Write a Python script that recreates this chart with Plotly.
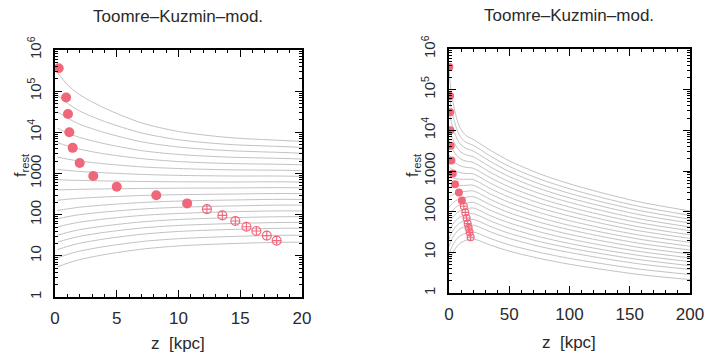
import plotly.graph_objects as go

# ---------------- data ----------------
title_text = "Toomre\u2013Kuzmin\u2013mod."

# z positions (kpc) where the grey model curves were read
z_curve = [0.2, 1, 2, 4, 7, 10, 14, 20, 35, 50, 75, 100, 130, 160, 200]

# f_rest values of the grey curves (top curve first)
f_curves = [
    [2.8e5, 1.44e5, 8.2e4, 3.9e4, 1.7e4, 1.05e4, 7.5e3, 6.0e3, 3150, 1780, 857, 485, 275, 169, 104],
    [7.9e4, 5.1e4, 3.3e4, 1.84e4, 9.7e3, 6.6e3, 5.1e3, 4.3e3, 2260, 1300, 637, 366, 210, 131, 81],
    [3.16e4, 2.23e4, 1.57e4, 9.9e3, 5.9e3, 4.4e3, 3.6e3, 3.1e3, 1667, 971, 485, 282, 165, 104, 65],
    [1.26e4, 9.7e3, 7.5e3, 5.3e3, 3.6e3, 2.9e3, 2.5e3, 2.24e3, 1230, 726, 370, 218, 129, 82, 52.5],
    [5.6e3, 4.7e3, 3.9e3, 3.0e3, 2.3e3, 1.95e3, 1.75e3, 1.62e3, 904, 542, 281, 169, 101, 65, 42],
    [2.5e3, 2.24e3, 2.0e3, 1.72e3, 1.45e3, 1.32e3, 1.23e3, 1.17e3, 667, 406, 214, 130, 79, 52, 34],
    [1.26e3, 1.19e3, 1.12e3, 1.04e3, 950, 900, 870, 850, 491, 303, 163, 101, 62, 41, 27],
    [710, 690, 680, 660, 640, 630, 622, 617, 361, 226, 124, 78, 49, 33, 22],
    [400, 405, 412, 422, 433, 440, 444, 447, 266, 169, 95, 60, 38, 26, 17.6],
    [224, 237, 250, 269, 292, 306, 316, 324, 196, 126, 72, 46, 30, 20.6, 14.1],
    [126, 138, 152, 172, 197, 214, 226, 234, 145, 94, 55, 36, 23.5, 16.3, 11.4],
    [79, 89, 100, 116, 137, 151, 162, 170, 106, 71, 42, 27.7, 18.4, 12.9, 9.1],
    [50, 57.5, 65.6, 78.5, 95.7, 107, 117, 123, 78, 53, 32, 21.4, 14.4, 10.3, 7.3],
    [31.6, 36.9, 43.2, 53.1, 66.7, 76.2, 83.8, 89.1, 58, 39.4, 24.2, 16.5, 11.3, 8.2, 5.9],
    [21.4, 25.2, 29.8, 37.2, 47.4, 54.7, 60.4, 64.6, 42.5, 29.4, 18.4, 12.8, 8.9, 6.5, 4.7],
    [14.1, 16.9, 20.2, 25.7, 33.4, 39.1, 43.5, 46.8, 31.3, 22.0, 14.0, 9.9, 6.95, 5.1, 3.8],
    [8.9, 10.8, 13.0, 16.8, 22.2, 26.1, 29.3, 31.6, 21.5, 15.3, 10.0, 7.1, 5.1, 3.8, 2.85],
    [5.4, 6.6, 8.1, 10.7, 14.5, 17.4, 19.7, 21.4, 14.8, 10.7, 7.1, 5.1, 3.7, 2.8, 2.14],
]

# measured points: filled circles
z_filled = [0.3, 0.9, 1.05, 1.16, 1.43, 2.0, 3.1, 5.0, 8.2, 10.7]
f_filled = [3.6e5, 7.0e4, 2.8e4, 1.0e4, 4.2e3, 1.8e3, 870, 475, 295, 188]
# measured points: open circles with cross
z_open = [12.3, 13.55, 14.6, 15.5, 16.3, 17.15, 17.95]
f_open = [136, 96, 70, 51, 40, 31, 23.4]

y_tickvals = [1, 10, 100, 1000, 1e4, 1e5, 1e6]
y_ticktext = ["1", "10", "100", "1000", "10<sup>4</sup>", "10<sup>5</sup>", "10<sup>6</sup>"]
x_ticks_left = [0, 5, 10, 15, 20]
x_ticks_right = [0, 50, 100, 150, 200]

# ---------------- styling ----------------
curve_color = "#c2c2c2"
red = "#f0667a"
txt = "#2a2a2a"
FONT = "Liberation Sans"

# minor tick positions of the log axes (2..9 in each decade)
y_minor = [m * 10 ** d for d in range(6) for m in range(2, 10)]

fig = go.Figure()

for xa, ya, msize in (("x", "y", 10), ("x2", "y2", 8)):
    for fc in f_curves:
        fig.add_trace(go.Scatter(x=z_curve, y=fc, mode="lines", xaxis=xa, yaxis=ya,
                                 line=dict(color=curve_color, width=1.0, shape="spline", smoothing=0.8),
                                 hoverinfo="skip", showlegend=False))
    fig.add_trace(go.Scatter(x=z_filled, y=f_filled, mode="markers", xaxis=xa, yaxis=ya,
                             marker=dict(symbol="circle", size=msize, color=red,
                                         line=dict(width=0)),
                             showlegend=False))
    fig.add_trace(go.Scatter(x=z_open, y=f_open, mode="markers", xaxis=xa, yaxis=ya,
                             marker=dict(symbol="circle-cross-open", size=msize - 1, color=red,
                                         line=dict(width=1.1, color=red)),
                             showlegend=False))

W, H = 705, 354
def xd(a, b):
    return [a / W, b / W]
def yd(top, bot):
    return [1 - bot / H, 1 - top / H]

common_x = dict(showgrid=False, zeroline=False, showline=True, linecolor="black", linewidth=1.6,
                mirror="allticks", ticks="inside", ticklen=7, tickwidth=1.3, tickcolor="black",
                tickfont=dict(family=FONT, size=17, color=txt), ticklabelstandoff=5,
                automargin=False)
common_y = dict(type="log", range=[0, 6], showgrid=False, zeroline=False, showline=True,
                linecolor="black", linewidth=1.6, mirror="allticks", ticks="inside", ticklen=7,
                tickwidth=1.3, tickcolor="black", tickmode="array", tickvals=y_tickvals,
                ticktext=y_ticktext, tickangle=-90, tickfont=dict(family=FONT, size=15, color=txt),
                ticklabelstandoff=6, automargin=False,
                minor=dict(ticks="inside", ticklen=3.5, tickcolor="black", showgrid=False,
                           tickmode="array", tickvals=y_minor))

fig.update_layout(
    width=W, height=H, margin=dict(l=0, r=0, t=0, b=0),
    paper_bgcolor="white", plot_bgcolor="white",
    xaxis=dict(domain=xd(55, 302), range=[0, 20], tickvals=x_ticks_left,
               minor=dict(dtick=1, ticks="inside", ticklen=3.5, tickcolor="black"),
               anchor="y", **common_x),
    yaxis=dict(domain=yd(50, 297), anchor="x", **common_y),
    xaxis2=dict(domain=xd(449, 690), range=[0, 200], tickvals=x_ticks_right,
                minor=dict(dtick=10, ticks="inside", ticklen=3.5, tickcolor="black"),
                anchor="y2", **common_x),
    yaxis2=dict(domain=yd(49, 293), anchor="x2", **common_y),
)

ann = []
for cx, ty, xlab_y in ((178, 17, 343), (569, 15, 342)):
    ann.append(dict(text=title_text, x=cx / W, y=1 - ty / H, xref="paper", yref="paper",
                    showarrow=False, xanchor="center", yanchor="middle",
                    font=dict(family=FONT, size=17, color=txt)))
    ann.append(dict(text="z  [kpc]", x=cx / W, y=1 - xlab_y / H, xref="paper", yref="paper",
                    showarrow=False, xanchor="center", yanchor="middle",
                    font=dict(family=FONT, size=17, color=txt)))
for fx in (21, 413):
    ann.append(dict(text="f<sub>rest</sub>", x=fx / W, y=1 - 165 / H, xref="paper", yref="paper",
                    showarrow=False, textangle=-90, xanchor="center", yanchor="middle",
                    font=dict(family=FONT, size=16, color=txt)))
fig.update_layout(annotations=ann)

fig.write_html("out.html", config={"displayModeBar": False},
               post_script="document.body.style.margin='0';document.body.style.overflow='hidden';")
